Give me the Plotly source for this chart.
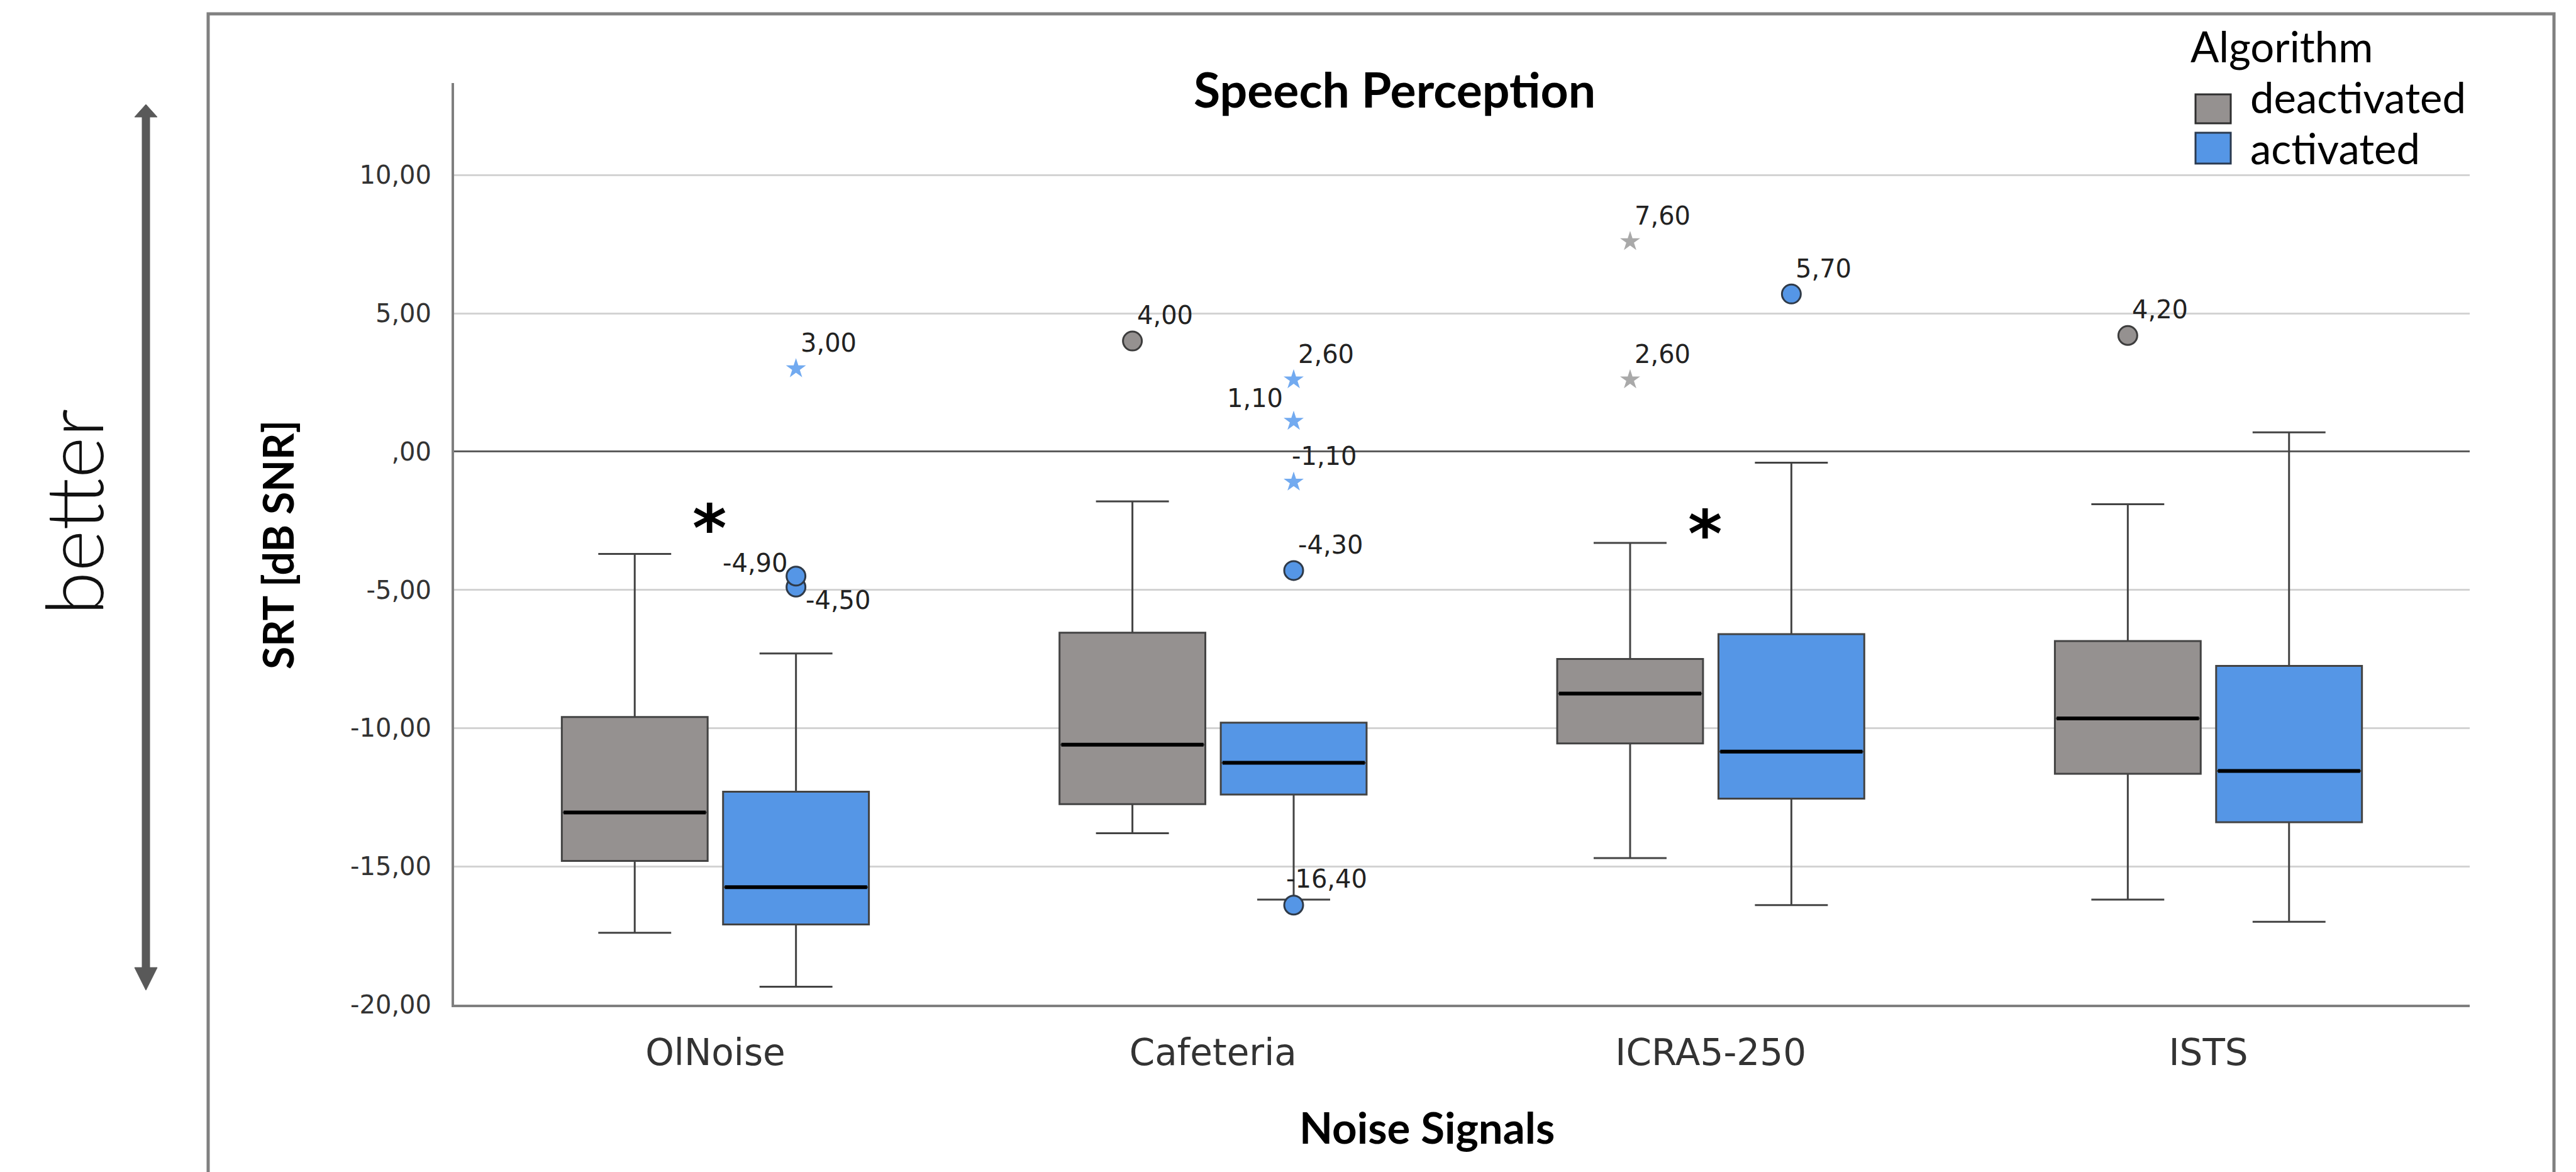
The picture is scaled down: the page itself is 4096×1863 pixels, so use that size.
import plotly.graph_objects as go

# ---------------- data ----------------
categories = ["OlNoise", "Cafeteria", "ICRA5-250", "ISTS"]

deact_lower = [-17.4, -13.8, -14.7, -16.2]
deact_q1 = [-14.8, -12.75, -10.55, -11.65]
deact_median = [-13.05, -10.6, -8.75, -9.65]
deact_q3 = [-9.6, -6.55, -7.5, -6.85]
deact_upper = [-3.7, -1.8, -3.3, -1.9]

act_lower = [-19.35, -16.2, -16.4, -17.0]
act_q1 = [-17.1, -12.4, -12.55, -13.4]
act_median = [-15.75, -11.25, -10.85, -11.55]
act_q3 = [-12.3, -9.8, -6.6, -7.75]
act_upper = [-7.3, -9.8, -0.4, 0.7]

deact_out_cat = ["Cafeteria", "ICRA5-250", "ICRA5-250", "ISTS"]
deact_out_val = [4.00, 7.60, 2.60, 4.20]
deact_out_kind = ["circle", "star", "star", "circle"]

act_out_cat = ["OlNoise", "OlNoise", "OlNoise", "Cafeteria", "Cafeteria",
               "Cafeteria", "Cafeteria", "Cafeteria", "ICRA5-250"]
act_out_val = [3.00, -4.90, -4.50, 2.60, 1.10, -1.10, -4.30, -16.40, 5.70]
act_out_kind = ["star", "circle", "circle", "star", "star", "star",
                "circle", "circle", "circle"]

sig_cat = ["OlNoise", "ICRA5-250"]
sig_y = [-2.4, -2.6]

y_tickvals = [-20, -15, -10, -5, 0, 5, 10]
y_ticklabels = ["-20,00", "-15,00", "-10,00", "-5,00", ",00", "5,00", "10,00"]
y_range = [-20, 13.33]

# ---------------- styling / layout constants ----------------
W, H = 4096, 1863
L, R, T, B = 722, 169, 132, 266
PW = W - L - R
PH = H - T - B


def px(x):
    return (x - L) / PW


def py(y):
    return (H - B - y) / PH


GRAY = "#959190"
BLUE = "#5596E6"
OFF = 0.162
BW = 0.293

fig = go.Figure()

series = [
    dict(name="deactivated", sign=-1, fill=GRAY,
         lower=deact_lower, q1=deact_q1, med=deact_median, q3=deact_q3, upper=deact_upper,
         ocat=deact_out_cat, oval=deact_out_val, okind=deact_out_kind,
         star="#a9a9a9", circ_line="#3d3d3d"),
    dict(name="activated", sign=1, fill=BLUE,
         lower=act_lower, q1=act_q1, med=act_median, q3=act_q3, upper=act_upper,
         ocat=act_out_cat, oval=act_out_val, okind=act_out_kind,
         star="#72aaf0", circ_line="#2f3a48"),
]

idx = {c: i for i, c in enumerate(categories)}

for s in series:
    xs = [i + s["sign"] * OFF for i in range(len(categories))]
    fig.add_trace(go.Box(
        x=xs, q1=s["q1"], median=s["med"], q3=s["q3"],
        lowerfence=s["lower"], upperfence=s["upper"],
        width=BW, whiskerwidth=0.5, fillcolor=s["fill"],
        line=dict(color="#434343", width=3), boxpoints=False,
        hoverinfo="skip", showlegend=False, name=s["name"]))
    # thicker black median line
    fig.add_trace(go.Box(
        x=xs, q1=s["med"], median=s["med"], q3=s["med"],
        lowerfence=s["med"], upperfence=s["med"],
        width=BW * 0.975, whiskerwidth=0, fillcolor="rgba(0,0,0,0)",
        line=dict(color="#000000", width=6), boxpoints=False,
        hoverinfo="skip", showlegend=False))
    # outliers
    for kind in ["circle", "star"]:
        ox = [idx[c] + s["sign"] * OFF for c, k in zip(s["ocat"], s["okind"]) if k == kind]
        oy = [v for v, k in zip(s["oval"], s["okind"]) if k == kind]
        if not ox:
            continue
        if kind == "circle":
            mk = dict(symbol="circle", size=30, color=s["fill"],
                      line=dict(color=s["circ_line"], width=3))
        else:
            mk = dict(symbol="star", size=24, color=s["star"], line=dict(width=0))
        fig.add_trace(go.Scatter(x=ox, y=oy, mode="markers", marker=mk,
                                 hoverinfo="skip", showlegend=False))

# outlier labels
LBL_FS = 40
label_style = {
    ("activated", "OlNoise", -4.90): ("right", -11, 24),
    ("activated", "OlNoise", -4.50): ("left", 13, -52),
    ("activated", "Cafeteria", 1.10): ("right", -15, 23),
    ("activated", "Cafeteria", -16.40): ("left", -14, 28),
    ("activated", "Cafeteria", -1.10): ("left", -5, 27),
}
annotations = []
for s in series:
    for c, v in zip(s["ocat"], s["oval"]):
        xa, dx, base = label_style.get((s["name"], c, v), ("left", 5, 27))
        annotations.append(dict(
            x=idx[c] + s["sign"] * OFF, y=v, xref="x", yref="y",
            text=f"{v:.2f}".replace(".", ","), showarrow=False,
            xanchor=xa, yanchor="middle", xshift=dx,
            yshift=base + 0.346 * LBL_FS,
            font=dict(family="DejaVu Sans", size=LBL_FS, color="#222222")))

# significance asterisks
for c, yv in zip(sig_cat, sig_y):
    annotations.append(dict(
        x=idx[c], y=yv, xref="x", yref="y", text="<b>*</b>", showarrow=False,
        xanchor="center", yanchor="middle", yshift=-17, xshift=-9,
        font=dict(family="DejaVu Sans", size=104, color="#000000")))

# titles
annotations += [
    dict(x=px(2217), y=py(141), xref="paper", yref="paper", text="<b>Speech Perception</b>",
         showarrow=False, xanchor="center", yanchor="middle",
         font=dict(family="Lato", size=77, color="#000000")),
    dict(x=px(2269), y=py(1791), xref="paper", yref="paper", text="<b>Noise Signals</b>",
         showarrow=False, xanchor="center", yanchor="middle",
         font=dict(family="Lato", size=69, color="#000000")),
    dict(x=px(442), y=py(866), xref="paper", yref="paper", text="<b>SRT [dB SNR]</b>",
         showarrow=False, xanchor="center", yanchor="middle", textangle=-90,
         font=dict(family="Lato", size=66, color="#000000")),
    dict(x=px(116), y=py(814), xref="paper", yref="paper", text="better",
         showarrow=False, xanchor="center", yanchor="middle", textangle=-90,
         font=dict(family="Lato", size=126, color="#111111", weight=300)),
    dict(x=px(3481), y=py(73), xref="paper", yref="paper", text="Algorithm",
         showarrow=False, xanchor="left", yanchor="middle",
         font=dict(family="Lato", size=67, color="#000000")),
    dict(x=px(3576), y=py(154), xref="paper", yref="paper", text="deactivated",
         showarrow=False, xanchor="left", yanchor="middle",
         font=dict(family="Lato", size=67, color="#000000")),
    dict(x=px(3576), y=py(235), xref="paper", yref="paper", text="activated",
         showarrow=False, xanchor="left", yanchor="middle",
         font=dict(family="Lato", size=67, color="#000000")),
]

# decorative shapes: outer frame, arrow, legend swatches
shapes = []
fx0, fy0, fx1 = 331, 22, 4061
shapes.append(dict(type="path", xref="paper", yref="paper",
                   path=f"M {px(fx0)} {py(H + 20)} L {px(fx0)} {py(fy0)} L {px(fx1)} {py(fy0)} L {px(fx1)} {py(H + 20)}",
                   line=dict(color="#808080", width=5)))
ax, ytip, ybase, ybot_base, ybot_tip = 232, 166, 186, 1538, 1574
hw, sw = 18, 6
arrow_path = (f"M {px(ax)} {py(ytip)} L {px(ax + hw)} {py(ybase)} L {px(ax + sw)} {py(ybase)} "
              f"L {px(ax + sw)} {py(ybot_base)} L {px(ax + hw)} {py(ybot_base)} L {px(ax)} {py(ybot_tip)} "
              f"L {px(ax - hw)} {py(ybot_base)} L {px(ax - sw)} {py(ybot_base)} L {px(ax - sw)} {py(ybase)} "
              f"L {px(ax - hw)} {py(ybase)} Z")
shapes.append(dict(type="path", xref="paper", yref="paper", path=arrow_path,
                   fillcolor="#595959", line=dict(color="#595959", width=1)))
shapes.append(dict(type="rect", xref="paper", yref="paper",
                   x0=px(3491), x1=px(3547), y0=py(196), y1=py(150),
                   fillcolor=GRAY, line=dict(color="#2f2f2f", width=3)))
shapes.append(dict(type="rect", xref="paper", yref="paper",
                   x0=px(3491), x1=px(3547), y0=py(260), y1=py(211),
                   fillcolor=BLUE, line=dict(color="#2a3a50", width=3)))

fig.update_layout(
    width=W, height=H,
    margin=dict(l=L, r=R, t=T, b=B, pad=0),
    paper_bgcolor="white", plot_bgcolor="white",
    boxmode="overlay", showlegend=False,
    annotations=annotations, shapes=shapes,
    xaxis=dict(range=[-0.525, len(categories) - 0.475], tickvals=list(range(len(categories))),
               ticktext=categories, showgrid=False, zeroline=False,
               showline=True, linecolor="#7f7f7f", linewidth=4, ticks="",
               ticklabelstandoff=22,
               tickfont=dict(family="DejaVu Sans", size=58, color="#333333")),
    yaxis=dict(range=y_range, tickvals=y_tickvals, ticktext=y_ticklabels,
               showgrid=True, gridcolor="#d3d3d3", gridwidth=3,
               zeroline=True, zerolinecolor="#5c5c5c", zerolinewidth=3,
               showline=True, linecolor="#7f7f7f", linewidth=4, ticks="",
               ticklabelstandoff=24,
               tickfont=dict(family="DejaVu Sans", size=40, color="#333333")),
)

fig.write_html("out.html", config={"displayModeBar": False},
               post_script="document.body.style.margin='0';document.body.style.overflow='hidden';")
